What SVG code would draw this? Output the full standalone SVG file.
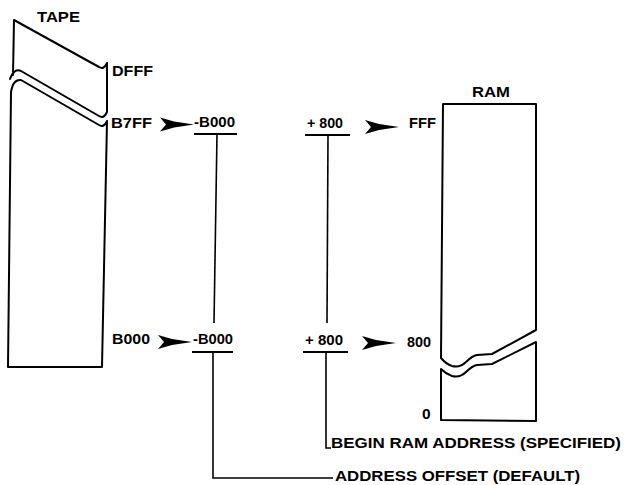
<svg xmlns="http://www.w3.org/2000/svg" width="627" height="485" viewBox="0 0 627 485">
<style>
text{font-family:"Liberation Sans",Arial,sans-serif;font-weight:bold;font-size:15.5px;fill:#000}
.outline{fill:#fff;stroke:#000;stroke-width:2;stroke-linejoin:round;stroke-linecap:round}
.ln{fill:none;stroke:#000;stroke-width:1.6}
.ul{fill:none;stroke:#000;stroke-width:2.2}
.ah{fill:#000;stroke:none}
</style>
<defs>
<path id="ahead" d="M0,-7 L14,-3 L34,0 L14,3 L0,7 L6,0 Z"/>
</defs>
<rect width="627" height="485" fill="#fff"/>
<g id="tape">
<path class="outline" d="M13,75 L14,20 L99,67 Q104,70 107,63 L107,112 Q104,119 99,116 L21,71 Q14,68 10,79" style="fill:none"/>
<path class="outline" d="M102,367 L8,367 L11,92 Q13,79 21,80 L99,125 Q104,128 107,121 Z"/>
<text x="37" y="22" textLength="43" lengthAdjust="spacingAndGlyphs">TAPE</text>
<text x="112" y="76" textLength="41" lengthAdjust="spacingAndGlyphs">DFFF</text>
<text x="111" y="128" textLength="41" lengthAdjust="spacingAndGlyphs">B7FF</text>
<text x="112" y="344" textLength="38" lengthAdjust="spacingAndGlyphs">B000</text>
</g>
<g id="offset-top">
<text x="194" y="127" textLength="41" lengthAdjust="spacingAndGlyphs">-B000</text>
</g>
<g id="offset-bottom">
<text x="193" y="344" textLength="40" lengthAdjust="spacingAndGlyphs">-B000</text>
</g>
<g id="add-top">
<text x="307" y="128" textLength="36" lengthAdjust="spacingAndGlyphs">+ 800</text>
</g>
<g id="add-bottom">
<text x="305" y="345" textLength="38" lengthAdjust="spacingAndGlyphs">+ 800</text>
</g>
<g id="ram">
<path class="outline" d="M441,358 L443,104 L536,104 L536,330 L492,354 L477,355 Q472,356 466,362 Q460,368 452,366 Q446,364 441,358 Z"/>
<path class="outline" d="M441,369 Q446,374 452,376 Q460,378 466,372 Q472,366 477,365 L492,364 L536,342 L536,421 L441,420 Z"/>
<text x="472" y="97" textLength="38" lengthAdjust="spacingAndGlyphs">RAM</text>
<text x="409" y="128" textLength="27" lengthAdjust="spacingAndGlyphs">FFF</text>
<text x="407" y="347" textLength="24" lengthAdjust="spacingAndGlyphs">800</text>
<text x="422" y="419">0</text>
</g>
<g id="label-begin">
<text x="331" y="448" textLength="290" lengthAdjust="spacingAndGlyphs">BEGIN RAM ADDRESS (SPECIFIED)</text>
</g>
<g id="label-offset">
<text x="335" y="481" textLength="245" lengthAdjust="spacingAndGlyphs">ADDRESS OFFSET (DEFAULT)</text>
</g>
<g id="connectors">
<use href="#ahead" class="ah" transform="translate(160,124.5)"/>
<use href="#ahead" class="ah" transform="translate(365,127)"/>
<use href="#ahead" class="ah" transform="translate(158,342)"/>
<use href="#ahead" class="ah" transform="translate(362,343)"/>
<path class="ul" d="M194,134 L237,134"/>
<path class="ul" d="M192,352 L233,352"/>
<path class="ul" d="M305,135 L350,135"/>
<path class="ul" d="M303,352 L348,352"/>
<path class="ln" d="M217,134 L214,323"/>
<path class="ln" d="M328,135 L327,323"/>
<path class="ln" d="M213,352 L213,478 L333,478"/>
<path class="ln" d="M326,352 L326,448 L331,448"/>
</g>
</svg>
